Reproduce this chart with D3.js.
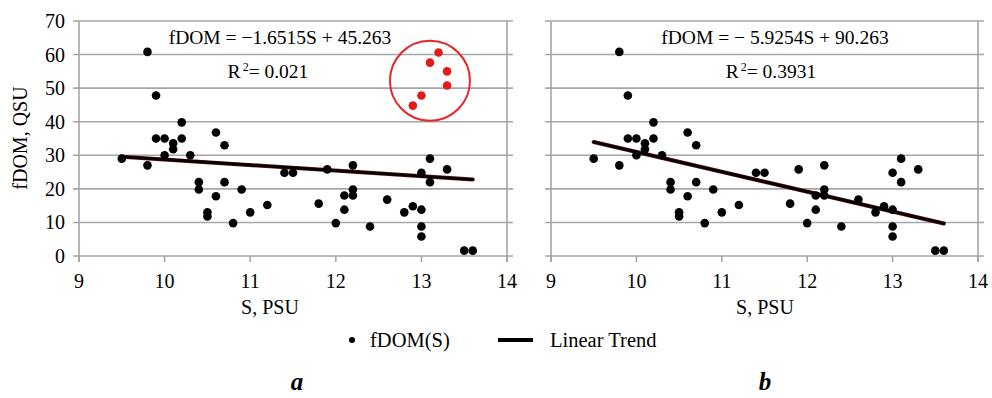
<!DOCTYPE html>
<html>
<head>
<meta charset="utf-8">
<script src="https://cdn.jsdelivr.net/npm/d3@7"></script>
<style>
  body { margin: 0; background: #fff; }
  text { font-family: "Liberation Serif", "Times New Roman", "DejaVu Serif", serif; }
</style>
</head>
<body>
<div id="chart"></div>
<script>
// Salinity (S, PSU) and fDOM (QSU) observations
var salinity = [9.5, 9.8, 9.8, 9.9, 9.9, 10.0, 10.0, 10.1, 10.1, 10.2, 10.2, 10.3,
  10.4, 10.4, 10.5, 10.5, 10.6, 10.6, 10.7, 10.7, 10.8, 10.9, 11.0, 11.2, 11.4, 11.5,
  11.8, 11.9, 12.0, 12.1, 12.1, 12.2, 12.2, 12.2, 12.4, 12.6, 12.8, 12.9, 13.0, 13.0,
  13.0, 13.0, 13.1, 13.1, 13.3, 13.5, 13.6];
var fdom = [29, 27, 60.8, 47.8, 35, 35, 30, 33.6, 31.8, 35, 39.8, 30,
  22, 19.8, 13, 11.8, 36.8, 17.8, 33, 22, 9.8, 19.8, 13, 15.2, 24.8, 24.8,
  15.6, 25.8, 9.8, 18, 13.8, 27, 19.8, 18, 8.8, 16.8, 13, 14.8, 24.8, 13.8,
  8.8, 5.8, 29, 22, 25.8, 1.6, 1.6];

// outliers (red, circled in panel a, dropped in panel b)
var outlierS = [13.2, 13.1, 13.3, 13.3, 13.0, 12.9];
var outlierF = [60.6, 57.6, 55, 50.8, 47.8, 44.8];

// trend coefficients [slope, intercept] and R²
var trendA = [-1.6515, 45.263];
var trendB = [-5.9254, 90.263];
var eqTexts = ["fDOM = \u22121.6515S + 45.263", "fDOM = \u2212 5.9254S + 90.263"];
var r2Texts = ["0.021", "0.3931"];
var xTicks = [9, 10, 11, 12, 13, 14];
var yTicks = [0, 10, 20, 30, 40, 50, 60, 70];

var W = 992, H = 398;
var svg = d3.select("#chart").append("svg").attr("width", W).attr("height", H);

var gridColor = "#a6a6a6";
var plotTop = 21, plotBottom = 256;

var y = d3.scaleLinear().domain([0, 70]).range([plotBottom, plotTop]);

var points = salinity.map(function (s, i) { return { s: s, f: fdom[i] }; });
var outliers = outlierS.map(function (s, i) { return { s: s, f: outlierF[i] }; });

function drawPanel(opts) {
  var x = d3.scaleLinear().domain([9, 14]).range([opts.x0, opts.x1]);
  var g = svg.append("g");

  // horizontal gridlines, with small tick stubs outside both sides
  g.selectAll(".grid").data(yTicks).enter().append("line")
    .attr("x1", opts.x0 - 6).attr("x2", opts.x1 + 6)
    .attr("y1", function (d) { return y(d); }).attr("y2", function (d) { return y(d); })
    .attr("stroke", gridColor).attr("stroke-width", 1.6);

  // left axis and right border
  [opts.x0, opts.x1].forEach(function (xx) {
    g.append("line").attr("x1", xx).attr("x2", xx)
      .attr("y1", plotTop).attr("y2", plotBottom + 6)
      .attr("stroke", gridColor).attr("stroke-width", 1.6);
  });

  // x axis ticks
  g.selectAll(".xt").data(xTicks).enter().append("line")
    .attr("x1", function (d) { return x(d); }).attr("x2", function (d) { return x(d); })
    .attr("y1", plotBottom).attr("y2", plotBottom + 6)
    .attr("stroke", gridColor).attr("stroke-width", 1.6);

  g.selectAll(".xl").data(xTicks).enter().append("text")
    .attr("x", function (d) { return x(d); }).attr("y", 288)
    .attr("text-anchor", "middle").attr("font-size", 20)
    .text(function (d) { return d; });

  if (opts.yLabels) {
    g.selectAll(".yl").data(yTicks).enter().append("text")
      .attr("x", opts.x0 - 14).attr("y", function (d) { return y(d) + 7; })
      .attr("text-anchor", "end").attr("font-size", 20)
      .text(function (d) { return d; });
  }

  // trend line over the salinity range
  var ext = d3.extent(opts.data, function (d) { return d.s; });
  var line = d3.line()
    .x(function (d) { return x(d); })
    .y(function (d) { return y(opts.trend[0] * d + opts.trend[1]); });
  g.append("path").attr("d", line(ext)).attr("fill", "none")
    .attr("stroke", "#5a1010").attr("stroke-width", 4).attr("stroke-linecap", "round");
  g.append("path").attr("d", line(ext)).attr("fill", "none")
    .attr("stroke", "#000").attr("stroke-width", 2.6).attr("stroke-linecap", "round");

  g.selectAll(".pt").data(points).enter().append("circle")
    .attr("cx", function (d) { return x(d.s); }).attr("cy", function (d) { return y(d.f); })
    .attr("r", 4.3).attr("fill", "#000");

  if (opts.outliers) {
    g.selectAll(".op").data(outliers).enter().append("circle")
      .attr("cx", function (d) { return x(d.s); }).attr("cy", function (d) { return y(d.f); })
      .attr("r", 4.3).attr("fill", "#e31b1b");
    g.append("circle").attr("cx", x(13.1)).attr("cy", y(52.2)).attr("r", 40)
      .attr("fill", "none").attr("stroke", "#e8262a").attr("stroke-width", 2);
  }

  // equation and R²
  g.append("text").attr("x", opts.eqX).attr("y", 44).attr("text-anchor", "middle")
    .attr("font-size", 19.5).text(opts.eq);
  var r = g.append("text").attr("x", opts.r2X).attr("y", 78).attr("text-anchor", "middle")
    .attr("font-size", 19.5);
  r.append("tspan").text("R");
  r.append("tspan").attr("font-size", 12).attr("dy", -7).attr("dx", 2).text("2");
  r.append("tspan").attr("dy", 7).text("= " + opts.r2);

  g.append("text").attr("x", opts.labelX).attr("y", 314).attr("text-anchor", "middle")
    .attr("font-size", 20).text("S, PSU");

  g.append("text").attr("x", opts.letterX).attr("y", 390).attr("text-anchor", "middle")
    .attr("font-size", 25).attr("font-weight", "bold").attr("font-style", "italic")
    .text(opts.letter);
}

drawPanel({ x0: 79, x1: 507, data: points.concat(outliers), trend: trendA, yLabels: true,
  outliers: true, eq: eqTexts[0], r2: r2Texts[0], eqX: 280, r2X: 268, labelX: 270,
  letterX: 297, letter: "a" });
drawPanel({ x0: 551, x1: 978, data: points, trend: trendB, yLabels: false,
  outliers: false, eq: eqTexts[1], r2: r2Texts[1], eqX: 775, r2X: 771, labelX: 765,
  letterX: 765, letter: "b" });

// y axis title
svg.append("text").attr("transform", "translate(27,138) rotate(-90)")
  .attr("text-anchor", "middle").attr("font-size", 20).text("fDOM, QSU");

// legend
var leg = svg.append("g");
leg.append("circle").attr("cx", 352).attr("cy", 340).attr("r", 3).attr("fill", "#000");
leg.append("text").attr("x", 370).attr("y", 347).attr("font-size", 20.5).text("fDOM(S)");
leg.append("line").attr("x1", 498).attr("x2", 533).attr("y1", 340).attr("y2", 340)
  .attr("stroke", "#000").attr("stroke-width", 4);
leg.append("text").attr("x", 550).attr("y", 347).attr("font-size", 20.5).text("Linear Trend");
</script>
</body>
</html>
